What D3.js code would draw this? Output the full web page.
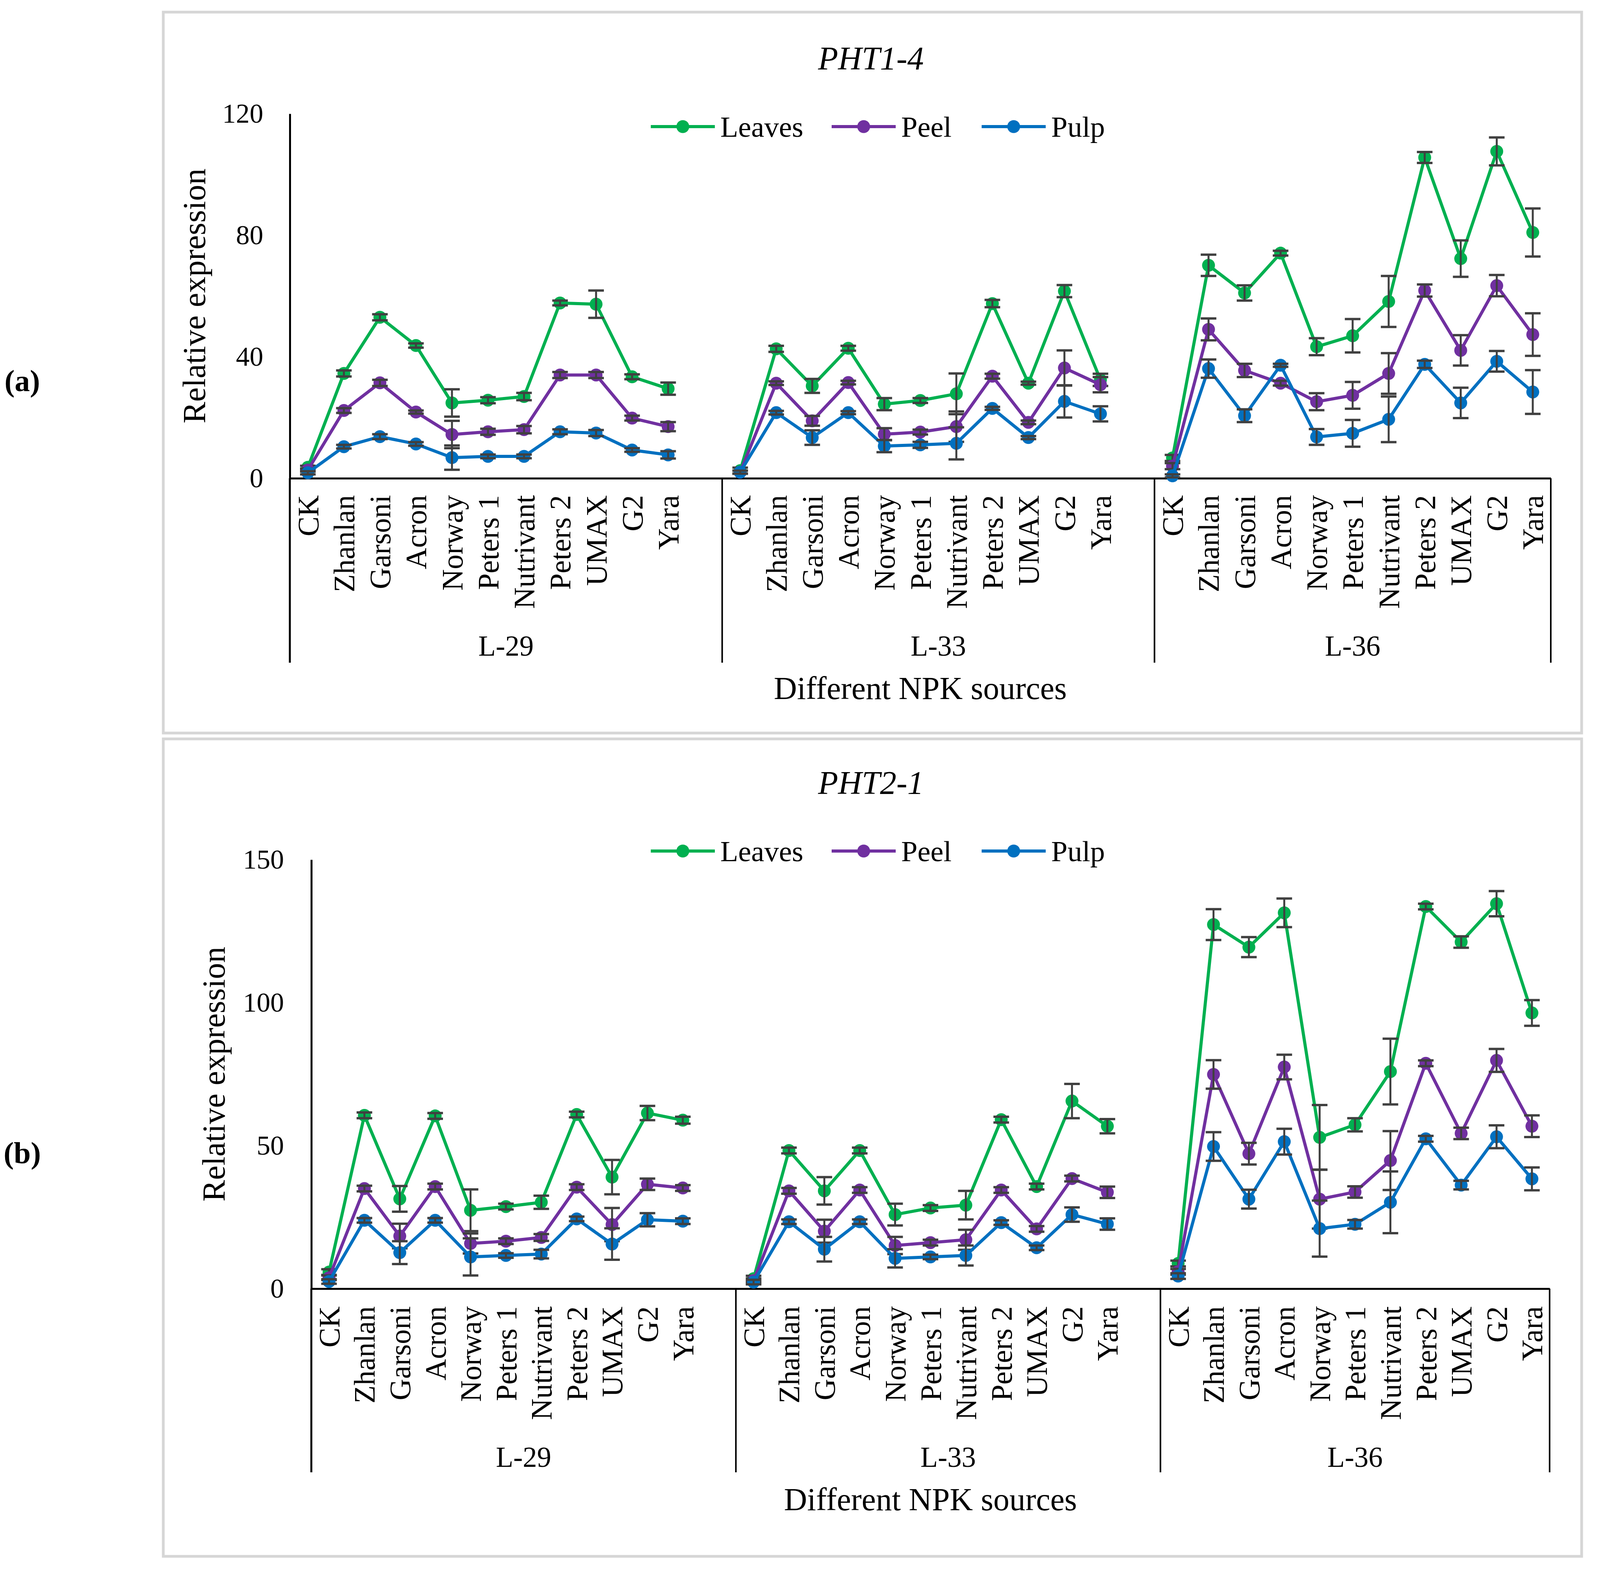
<!DOCTYPE html>
<html>
<head>
<meta charset="utf-8">
<script src="https://cdn.jsdelivr.net/npm/d3@7"></script>
<style>
  body { margin: 0; background: #fff; }
  text { font-family: "Liberation Serif", "Times New Roman", serif; fill: #000; }
</style>
</head>
<body>
<div id="chart"></div>
<script>
///////////// Data //////////////
var sources = ['CK', 'Zhanlan', 'Garsoni', 'Acron', 'Norway', 'Peters 1', 'Nutrivant', 'Peters 2', 'UMAX', 'G2', 'Yara'];
var lines_groups = ['L-29', 'L-33', 'L-36'];
var series_names = ['Leaves', 'Peel', 'Pulp'];

// (a) PHT1-4, 11 values per line (L-29, L-33, L-36)
var leaves_a = [3.6, 34.5, 53, 43.7, 24.8, 25.7, 26.9, 57.7, 57.3, 33.4, 29.5,
                2.5, 42.6, 30.4, 42.8, 24.4, 25.6, 27.8, 57.5, 31.3, 61.6, 32.4,
                6.7, 70.1, 61, 74.1, 43.3, 46.9, 58.2, 105.6, 72.3, 107.6, 80.9];
var leaves_a_err = [0.5, 1, 1, 0.7, 4.5, 1, 1.2, 0.8, 4.5, 0.8, 2,
                    1, 1, 2.3, 0.8, 2, 0.8, 6.7, 1.2, 0.5, 2, 2,
                    1, 3.5, 2.5, 0.8, 2.8, 5.5, 8.4, 1.8, 6, 4.6, 7.9];
var peel_a = [2.7, 22.3, 31.4, 21.8, 14.4, 15.3, 16, 34, 34, 19.8, 17,
              2, 31.3, 18.9, 31.5, 14.5, 15.2, 17, 33.6, 18.4, 36.3, 30.8,
              4, 49, 35.5, 31.3, 25.2, 27.3, 34.5, 61.8, 42.1, 63.4, 47.3];
var peel_a_err = [0.5, 0.8, 1, 0.5, 4.5, 1, 1.2, 1, 1, 0.8, 1.5,
                  0.5, 0.6, 1.6, 0.6, 2, 0.8, 5, 0.8, 0.6, 5.8, 2.5,
                  1, 3.6, 2.2, 0.8, 2.8, 4.4, 6.7, 2, 5, 3.5, 7];
var pulp_a = [1.8, 10.4, 13.7, 11.3, 6.8, 7.2, 7.2, 15.3, 14.9, 9.3, 7.7,
              2, 21.6, 13.4, 21.6, 10.6, 11, 11.5, 23, 13.4, 25.3, 21.2,
              0.8, 36.1, 20.6, 37.2, 13.6, 14.8, 19.4, 37.5, 24.8, 38.5, 28.4];
var pulp_a_err = [0.5, 0.6, 0.8, 0.6, 4, 0.6, 0.6, 0.8, 1, 0.6, 1.2,
                  0.5, 0.6, 2.4, 0.5, 2, 1, 5.3, 0.5, 0.5, 5.3, 2.5,
                  0.5, 3, 2.1, 0.5, 2.6, 4.4, 7.5, 1.2, 5, 3.4, 7.2];

// (b) PHT2-1
var leaves_b = [5.8, 60.6, 31.4, 60.4, 27.4, 28.7, 30.2, 60.9, 39, 61.4, 58.9,
                3.5, 48.3, 34.2, 48.3, 25.9, 28.2, 29.2, 59.1, 35.7, 65.6, 56.8,
                8.8, 127.3, 119.4, 131.4, 52.9, 57.3, 75.9, 133.6, 121.2, 134.6, 96.4];
var leaves_b_err = [1, 1, 4.5, 1, 7.3, 1, 2.3, 1, 6, 2.5, 1.2,
                    1, 1, 4.8, 1, 3.8, 1, 5, 1, 1, 6, 2.5,
                    1, 5.4, 3.5, 5, 11.3, 2.3, 11.5, 1, 2, 4.4, 4.5];
var peel_b = [3.8, 35, 18.4, 35.7, 15.8, 16.6, 17.9, 35.5, 22.4, 36.5, 35.2,
              2.8, 34.2, 20.1, 34.5, 15.1, 16.1, 17.1, 34.5, 20.9, 38.5, 33.7,
              5.9, 74.9, 47.2, 77.5, 31.3, 33.8, 44.8, 78.8, 54.3, 79.8, 56.8];
var peel_b_err = [0.8, 1, 4.3, 1, 3.5, 1, 1.2, 1, 5.8, 2, 1,
                  0.8, 1, 4, 1, 3, 1, 3.5, 1, 1, 1, 2,
                  1, 5, 3.8, 4.3, 10.3, 2, 10.3, 1, 2, 4, 3.8];
var pulp_b = [2.5, 23.9, 12.6, 23.9, 11.1, 11.6, 12.1, 24.4, 15.6, 24.1, 23.6,
              2.3, 23.4, 13.8, 23.4, 10.6, 11.1, 11.6, 23.1, 14.3, 25.9, 22.6,
              4.4, 49.7, 31.3, 51.4, 21, 22.5, 30.2, 52.4, 36.2, 53.1, 38.4];
var pulp_b_err = [0.8, 0.8, 4, 0.8, 6.5, 0.8, 1.5, 0.8, 5.5, 2.3, 1,
                  0.8, 0.8, 4.3, 0.8, 3.2, 0.8, 3.5, 0.8, 0.8, 2.5, 2,
                  1, 5, 3.3, 4.5, 9.8, 1.5, 10.8, 1, 1.5, 4, 4];

var ticks_a = [0, 40, 80, 120];
var ticks_b = [0, 50, 100, 150];
///////////// Data End //////////////

const W = 4100, H = 4018;
const font = '"Liberation Serif", "Times New Roman", serif';
const series_color = d3.scaleOrdinal().domain(series_names).range(['#00B050', '#7030A0', '#0070C0']);
const marker_r = 16.5, line_w = 8, cap_half = 20;

// layout for the two panels
var panels = [
  { tag: '(a)', title: 'PHT1-4', ymax: 120, ticks: ticks_a,
    values: [leaves_a, peel_a, pulp_a], errors: [leaves_a_err, peel_a_err, pulp_a_err],
    box: [418, 31, 4049, 1876], x0: 742, x1: 3970, yTop: 291, yZero: 1224,
    titleY: 149, legendY: 324, labelY: 1267, sepY: 1696, groupY: 1652, xTitleY: 1760,
    yTitleX: 496, tagY: 974, tickGap: 68 },
  { tag: '(b)', title: 'PHT2-1', ymax: 150, ticks: ticks_b,
    values: [leaves_b, peel_b, pulp_b], errors: [leaves_b_err, peel_b_err, pulp_b_err],
    box: [418, 1891, 4049, 3983], x0: 797, x1: 3967, yTop: 2200, yZero: 3298,
    titleY: 2003, legendY: 2178, labelY: 3343, sepY: 3768, groupY: 3728, xTitleY: 3836,
    yTitleX: 546, tagY: 2950, tickGap: 70 }
];

// category keys: 11 sources per group, with an empty slot after L-29 and L-33
var keys = [];
lines_groups.forEach(function(g, gi) {
  sources.forEach(function(s) { keys.push(g + '|' + s); });
  if (gi < lines_groups.length - 1) keys.push('gap' + gi);
});

var svg = d3.select('#chart').append('svg')
  .attr('width', W)
  .attr('height', H);

svg.append('rect').attr('width', W).attr('height', H).attr('fill', '#fff');

panels.forEach(draw_panel);

function draw_panel(p) {
  var g = svg.append('g');

  // panel frame
  g.append('rect')
    .attr('x', p.box[0]).attr('y', p.box[1])
    .attr('width', p.box[2] - p.box[0]).attr('height', p.box[3] - p.box[1])
    .attr('fill', 'none').attr('stroke', '#d6d6d6').attr('stroke-width', 7);

  var x = d3.scaleBand().domain(keys).range([p.x0, p.x1]).padding(0);
  var y = d3.scaleLinear().domain([0, p.ymax]).range([p.yZero, p.yTop]);
  var cx = function(k) { return x(k) + x.bandwidth() / 2; };
  var cx_mid = (p.box[0] + p.box[2]) / 2;

  // panel tag and title
  g.append('text')
    .attr('x', 57).attr('y', p.tagY).attr('dy', '0.35em')
    .attr('text-anchor', 'middle')
    .style('font-size', '78px').style('font-weight', 'bold')
    .text(p.tag);

  g.append('text')
    .attr('x', cx_mid - 4).attr('y', p.titleY).attr('dy', '0.35em')
    .attr('text-anchor', 'middle')
    .style('font-size', '84px').style('font-style', 'italic')
    .text(p.title);

  // y axis
  var yAxis = d3.axisLeft(y).tickValues(p.ticks).tickSize(0).tickPadding(p.tickGap);
  var ya = g.append('g')
    .attr('transform', `translate(${p.x0},0)`)
    .call(yAxis);
  ya.select('.domain').attr('stroke', '#000').attr('stroke-width', 5);
  ya.selectAll('text').style('font-size', '70px').style('font-family', font);

  g.append('text')
    .attr('transform', `translate(${p.yTitleX},${(p.yTop + p.yZero) / 2}) rotate(-90)`)
    .attr('text-anchor', 'middle').attr('dy', '0.35em')
    .style('font-size', '83px')
    .text('Relative expression');

  // x axis with rotated source labels
  var xAxis = d3.axisBottom(x).tickSize(0).tickSizeOuter(0)
    .tickFormat(function(k) { return k.indexOf('|') < 0 ? '' : k.split('|')[1]; });
  var xa = g.append('g')
    .attr('transform', `translate(0,${p.yZero})`)
    .call(xAxis);
  xa.select('.domain').attr('stroke', '#000').attr('stroke-width', 5);
  xa.selectAll('text')
    .attr('x', 0).attr('y', 0).attr('dy', '0.35em')
    .attr('text-anchor', 'end')
    .attr('transform', `translate(0,${p.labelY - p.yZero}) rotate(-90)`)
    .style('font-size', '76px').style('font-family', font);

  // left axis continues down, plus group separators
  var bounds = [p.x0];
  lines_groups.forEach(function(gr, gi) {
    var last = gi < lines_groups.length - 1 ? 'gap' + gi : gr + '|' + sources[sources.length - 1];
    bounds.push(x(last) + x.bandwidth());
  });
  g.selectAll('line.sep').data(bounds).enter().append('line')
    .attr('class', 'sep')
    .attr('x1', d => d).attr('x2', d => d)
    .attr('y1', p.yZero).attr('y2', p.sepY)
    .attr('stroke', '#000').attr('stroke-width', (d, i) => i === 0 ? 5 : 4);

  g.selectAll('text.grp').data(lines_groups).enter().append('text')
    .attr('class', 'grp')
    .attr('x', (d, i) => (bounds[i] + bounds[i + 1]) / 2)
    .attr('y', p.groupY).attr('dy', '0.35em')
    .attr('text-anchor', 'middle')
    .style('font-size', '73px')
    .text(d => d);

  g.append('text')
    .attr('x', (p.x0 + p.x1) / 2).attr('y', p.xTitleY).attr('dy', '0.35em')
    .attr('text-anchor', 'middle')
    .style('font-size', '82px')
    .text('Different NPK sources');

  // series
  series_names.forEach(function(name, si) {
    var pts = [];
    var vi = 0;
    keys.forEach(function(k) {
      if (k.indexOf('|') < 0) { pts.push(null); return; }
      pts.push({ k: k, v: p.values[si][vi], e: p.errors[si][vi] });
      vi++;
    });
    var col = series_color(name);
    var sg = g.append('g').attr('class', 'series');

    var line = d3.line().defined(d => d !== null)
      .x(d => cx(d.k)).y(d => y(d.v));
    sg.append('path').datum(pts)
      .attr('d', line)
      .attr('fill', 'none').attr('stroke', col)
      .attr('stroke-width', line_w).attr('stroke-linejoin', 'round');

    var real = pts.filter(d => d !== null);
    sg.selectAll('circle').data(real).enter().append('circle')
      .attr('cx', d => cx(d.k)).attr('cy', d => y(d.v))
      .attr('r', marker_r).attr('fill', col);

    var eb = sg.selectAll('g.err').data(real).enter().append('g').attr('class', 'err')
      .attr('stroke', '#404040');
    eb.append('line')
      .attr('stroke-width', 5)
      .attr('x1', d => cx(d.k)).attr('x2', d => cx(d.k))
      .attr('y1', d => y(d.v - d.e)).attr('y2', d => y(d.v + d.e));
    eb.append('line')
      .attr('stroke-width', 6)
      .attr('x1', d => cx(d.k) - cap_half).attr('x2', d => cx(d.k) + cap_half)
      .attr('y1', d => y(d.v + d.e)).attr('y2', d => y(d.v + d.e));
    eb.append('line')
      .attr('stroke-width', 6)
      .attr('x1', d => cx(d.k) - cap_half).attr('x2', d => cx(d.k) + cap_half)
      .attr('y1', d => y(d.v - d.e)).attr('y2', d => y(d.v - d.e));
  });

  // legend
  var legend_x = [1666, 2129, 2513];
  var leg = g.selectAll('g.leg').data(series_names).enter().append('g')
    .attr('class', 'leg')
    .attr('transform', (d, i) => `translate(${legend_x[i]},${p.legendY})`);
  leg.append('line')
    .attr('x1', 0).attr('x2', 164).attr('y1', 0).attr('y2', 0)
    .attr('stroke', d => series_color(d)).attr('stroke-width', line_w);
  leg.append('circle')
    .attr('cx', 82).attr('cy', 0).attr('r', marker_r)
    .attr('fill', d => series_color(d));
  leg.append('text')
    .attr('x', 178).attr('y', 0).attr('dy', '0.35em')
    .style('font-size', '75px')
    .text(d => d);
}
</script>
</body>
</html>
